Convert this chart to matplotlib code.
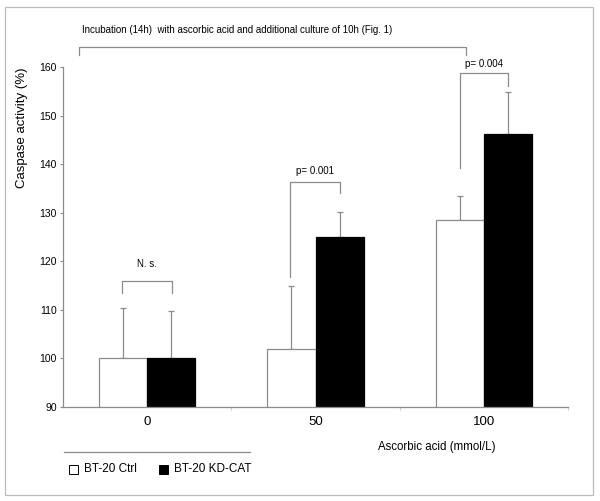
import matplotlib.pyplot as plt
import numpy as np
from matplotlib.patches import Rectangle

plt.rcParams['font.family'] = ['Liberation Sans', 'DejaVu Sans']

# caspase activity (%) per ascorbic acid dose
doses = ['0', '50', '100']
ctrl_mean = [100.0, 101.9, 128.5]
ctrl_err = [10.3, 13.0, 4.9]
kd_mean = [100.0, 125.0, 146.3]
kd_err = [9.7, 5.2, 8.6]
p_labels = ['N. s.', 'p= 0.001', 'p= 0.004']

grey = '#8c8c8c'

fig = plt.figure(figsize=(6, 5.01), dpi=100)
ax = fig.add_axes([0.105, 0.1876, 0.8417, 0.6787])

x = np.arange(len(doses))
w = 0.2857
ax.bar(x - w / 2, ctrl_mean, w, color='white', edgecolor=grey, linewidth=0.9, zorder=2)
ax.bar(x + w / 2, kd_mean, w, color='black', edgecolor='black', linewidth=0.9, zorder=2)
ax.errorbar(x - w / 2, ctrl_mean, yerr=[np.zeros(3), ctrl_err], fmt='none',
            ecolor=grey, elinewidth=0.9, capsize=2, capthick=0.9, zorder=1)
ax.errorbar(x + w / 2, kd_mean, yerr=[np.zeros(3), kd_err], fmt='none',
            ecolor=grey, elinewidth=0.9, capsize=2, capthick=0.9, zorder=1)

ax.set_xlim(-0.5, 2.5)
ax.set_ylim(90, 160)
ax.set_yticks(range(90, 161, 10))
ax.tick_params(axis='y', labelsize=7.5, length=2.5, color=grey, width=0.8, pad=2)
ax.set_xticks([0.5, 1.5, 2.5])
ax.set_xticklabels([])
ax.tick_params(axis='x', length=2.5, color='#cccccc', width=0.8)
for i, d in enumerate(doses):
    ax.text(i, 86.9, d, ha='center', va='center', fontsize=9.5)
for s in ['top', 'right']:
    ax.spines[s].set_visible(False)
for s in ['left', 'bottom']:
    ax.spines[s].set_color(grey)
    ax.spines[s].set_linewidth(0.9)

# significance brackets: left x, right x, top, left foot, right foot, text y
brackets = [
    (-0.149, 0.149, 115.9, 113.5, 113.5, 119.4),
    (0.851, 1.143, 136.3, 116.8, 134.1, 138.6),
    (1.857, 2.143, 158.8, 139.2, 156.1, 160.6),
]
for lab, (xl, xr, top, bl, br, ty) in zip(p_labels, brackets):
    ax.plot([xl, xl, xr, xr], [bl, top, top, br], color=grey, lw=0.9, clip_on=False)
    ax.text((xl + xr) / 2, ty, lab, ha='center', va='center', fontsize=7)

# overall bracket
ax.plot([-0.405, -0.405, 1.893, 1.893], [162.5, 164.1, 164.1, 162.5],
        color=grey, lw=0.9, clip_on=False)
ax.text(-0.387, 167.6, 'Incubation (14h)  with ascorbic acid and additional culture of 10h (Fig. 1)',
        ha='left', va='center', fontsize=7)

fig.text(22 / 600, 1 - 128 / 501, 'Caspase activity (%)', rotation=90,
         ha='center', va='center', fontsize=9.5)
fig.text(437 / 600, 1 - 447 / 501, 'Ascorbic acid (mmol/L)', ha='center',
         va='center', fontsize=8.3)

# legend
fig.add_artist(plt.Line2D([64 / 600, 250 / 600], [1 - 452 / 501, 1 - 452 / 501],
                          color=grey, lw=0.9))
fig.add_artist(Rectangle((69 / 600, 1 - 474 / 501), 9 / 600, 9 / 501,
                         facecolor='white', edgecolor='black', lw=0.7))
fig.text(84 / 600, 1 - 469 / 501, 'BT-20 Ctrl', ha='left', va='center', fontsize=8.5)
fig.add_artist(Rectangle((159 / 600, 1 - 474 / 501), 9 / 600, 9 / 501,
                         facecolor='black', edgecolor='black', lw=0.7))
fig.text(174 / 600, 1 - 469 / 501, 'BT-20 KD-CAT', ha='left', va='center', fontsize=8.5)

# outer frame
fig.add_artist(Rectangle((5 / 600, 1 - 495 / 501), 588 / 600, 488 / 501,
                         facecolor='none', edgecolor='#bbbbbb', lw=0.9))

fig.savefig('out.png', dpi=100)
